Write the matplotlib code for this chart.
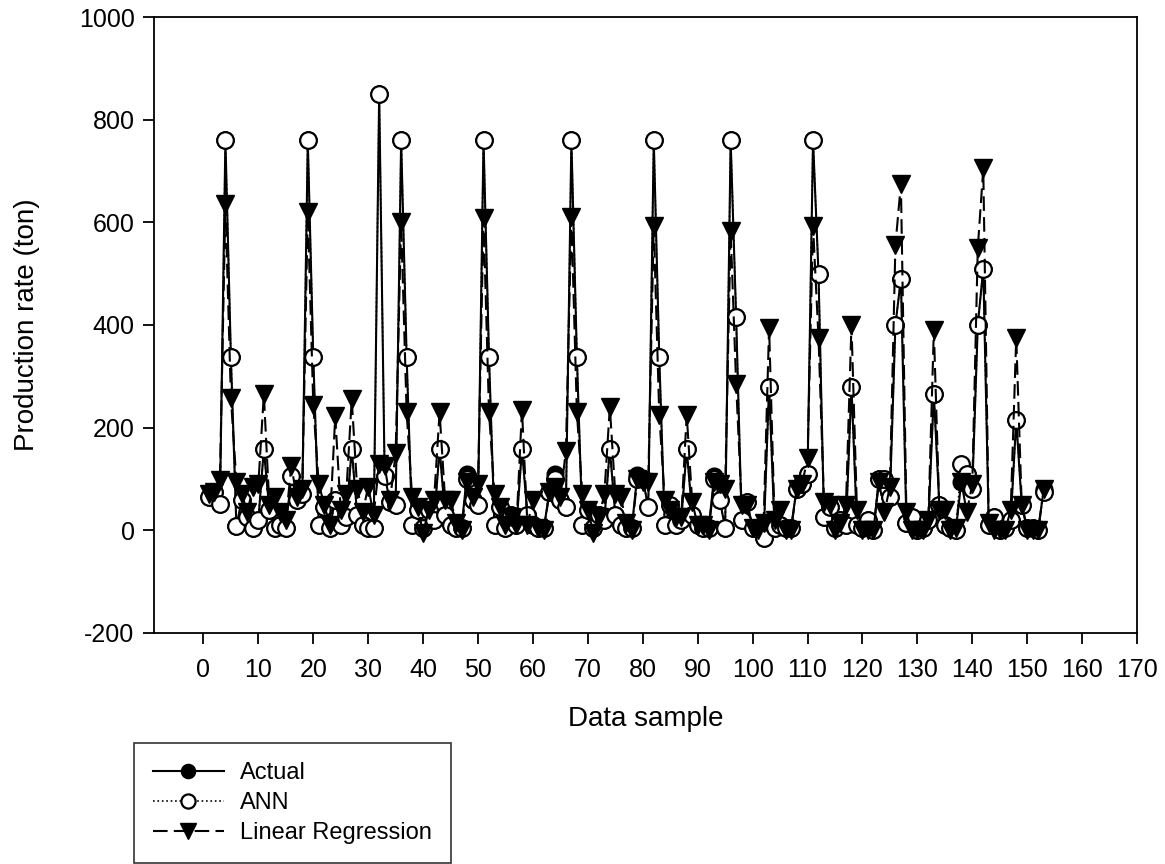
import matplotlib
matplotlib.use("Agg")
import matplotlib.pyplot as plt
from matplotlib.ticker import MultipleLocator

plt.rcParams["font.family"] = ["Liberation Sans", "DejaVu Sans"]
plt.rcParams["axes.unicode_minus"] = False

# ----- Data -----
sample = list(range(1, 154))

ann = [
    65, 75, 51, 760, 338, 8, 60, 25, 5, 20,
    158, 40, 5, 10, 5, 105, 60, 70, 760, 338,
    10, 45, 5, 60, 10, 25, 158, 30, 10, 5,
    5, 850, 105, 55, 50, 760, 338, 10, 40, 5,
    40, 20, 158, 30, 10, 5, 5, 100, 60, 50,
    760, 338, 10, 45, 5, 30, 10, 158, 30, 10,
    5, 5, 75, 100, 60, 45, 760, 338, 10, 40,
    5, 30, 20, 158, 30, 10, 5, 5, 100, 100,
    45, 760, 338, 10, 50, 10, 20, 158, 30, 10,
    5, 5, 100, 60, 5, 760, 415, 20, 55, 5,
    5, -15, 280, 5, 10, 5, 5, 80, 90, 110,
    760, 500, 25, 45, 5, 20, 10, 280, 10, 5,
    20, 0, 100, 100, 65, 400, 490, 15, 25, 0,
    5, 20, 265, 50, 10, 5, 0, 130, 110, 80,
    400, 510, 10, 25, 0, 5, 20, 215, 50, 5,
    5, 0, 75,
]

actual = [
    65, 75, 51, 760, 338, 8, 60, 25, 5, 20,
    158, 40, 5, 10, 5, 105, 60, 70, 760, 338,
    10, 45, 5, 60, 10, 25, 158, 30, 10, 5,
    5, 850, 105, 55, 50, 760, 338, 10, 40, 5,
    40, 20, 158, 30, 10, 5, 5, 110, 60, 50,
    760, 338, 10, 45, 5, 30, 10, 158, 30, 10,
    5, 5, 75, 110, 60, 45, 760, 338, 10, 40,
    5, 30, 20, 158, 30, 10, 5, 5, 108, 100,
    45, 760, 338, 10, 50, 10, 20, 158, 30, 10,
    5, 5, 105, 60, 5, 760, 415, 20, 55, 5,
    5, -15, 280, 5, 10, 5, 5, 80, 90, 110,
    760, 500, 25, 45, 5, 20, 10, 280, 10, 5,
    20, 0, 100, 100, 65, 400, 490, 15, 25, 0,
    5, 20, 265, 50, 10, 5, 0, 95, 110, 80,
    400, 510, 10, 25, 0, 5, 20, 215, 50, 5,
    5, 0, 80,
]

linreg = [
    70, 75, 98, 635, 258, 95, 70, 35, 85, 90,
    265, 50, 65, 35, 20, 125, 65, 80, 620, 245,
    90, 50, 10, 222, 40, 70, 255, 80, 35, 85,
    30, 130, 125, 60, 150, 600, 230, 65, 45, -5,
    40, 60, 230, 60, 60, 15, 0, 95, 65, 90,
    608, 230, 70, 45, 10, 25, 10, 235, 10, 60,
    5, 0, 75, 85, 65, 155, 610, 230, 70, 40,
    -5, 25, 70, 240, 70, 65, 15, 0, 100, 95,
    95, 593, 225, 60, 40, 25, 25, 225, 55, 10,
    10, 0, 95, 90, 80, 583, 285, 50, 50, 5,
    0, 15, 395, 20, 40, 0, 0, 80, 90, 140,
    593, 375, 55, 50, 0, 15, 50, 400, 40, 0,
    0, 0, 95, 35, 85, 555, 675, 35, 0, 0,
    0, 20, 390, 40, 40, 0, 5, 95, 35, 90,
    550, 705, 15, 0, 0, 0, 40, 375, 50, 0,
    0, 0, 80,
]

# ----- Figure -----
fig = plt.figure(figsize=(11.65, 8.64), dpi=100)
ax = fig.add_axes([0.1322, 0.2674, 0.8438, 0.7129])

ax.plot(sample, actual, color="black", linestyle="-", linewidth=1.5,
        marker="o", markersize=12, markerfacecolor="black",
        markeredgecolor="black", label="Actual", zorder=2)
ax.plot(sample, ann, color="black", linestyle=":", linewidth=1.2,
        marker="o", markersize=12, markerfacecolor="white",
        markeredgecolor="black", markeredgewidth=1.6, label="ANN", zorder=3)
ax.plot(sample, linreg, color="black", linestyle=(0, (7, 3)), linewidth=1.5,
        marker="v", markersize=13, markerfacecolor="black",
        markeredgecolor="black", label="Linear Regression", zorder=4)

ax.set_xlim(-9, 170)
ax.set_ylim(-200, 1000)
ax.xaxis.set_major_locator(MultipleLocator(10))
ax.yaxis.set_major_locator(MultipleLocator(200))
ax.tick_params(direction="out", length=8, width=1.3, labelsize=18)
ax.tick_params(axis="x", pad=10)
ax.tick_params(axis="y", pad=6)
for s in ax.spines.values():
    s.set_linewidth(1.3)

ax.set_xlabel("Data sample", fontsize=20, labelpad=17)
ax.set_ylabel("Production rate (ton)", fontsize=20, labelpad=28)

leg = ax.legend(loc="upper left", bbox_to_anchor=(134 / 1165, (864 - 743) / 864),
                bbox_transform=fig.transFigure, fontsize=17, frameon=True,
                fancybox=False, edgecolor="black", handlelength=3.0,
                handletextpad=0.7, borderpad=0.8, labelspacing=0.35,
                markerscale=0.85, borderaxespad=0)
leg.get_frame().set_linewidth(1.2)
leg.set_clip_on(False)

fig.savefig("out.png", dpi=100, facecolor="white")
